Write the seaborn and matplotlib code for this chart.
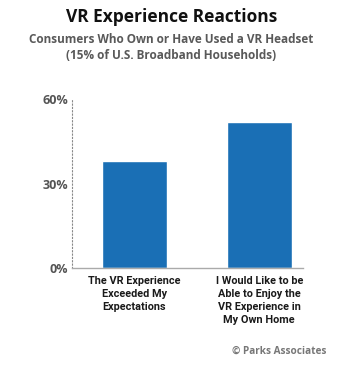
import matplotlib
matplotlib.use('Agg')
import matplotlib.pyplot as plt
import seaborn as sns
import pandas as pd

# Chart data
categories = ['The VR Experience\nExceeded My\nExpectations',
              'I Would Like to be\nAble to Enjoy the\nVR Experience in\nMy Own Home']
values = [38, 52]
yticks = [0, 30, 60]
ytick_labels = ['0%', '30%', '60%']

df = pd.DataFrame({'category': categories, 'value': values})

sns.set_style('white')
plt.rcParams['font.family'] = ['Open Sans', 'DejaVu Sans']

fig = plt.figure(figsize=(3.64, 3.73), dpi=100)
ax = fig.add_axes([0.198, 0.2815, 0.634, 0.453])

sns.barplot(data=df, x='category', y='value', color='#1a6fb5', saturation=1,
            width=0.52, ax=ax)

ax.set_xlim(-0.5, 1.35)
ax.set_ylim(0, 60)
ax.set_yticks(yticks)
ax.set_yticklabels(ytick_labels, fontsize=9, fontweight='bold', color='#555555')
ax.set_xlabel('')
ax.set_ylabel('')
ax.set_xticks(range(len(categories)))
ax.set_xticklabels(categories, fontsize=7.8, fontweight='bold', color='#1a1a1a',
                   family=['Roboto', 'DejaVu Sans'], linespacing=1.35)
ax.tick_params(axis='y', length=0, pad=3)
ax.tick_params(axis='x', length=0, pad=6)

for side in ['top', 'right']:
    ax.spines[side].set_visible(False)
ax.spines['left'].set_linestyle((0, (1, 2)))
ax.spines['left'].set_color('#888888')
ax.spines['left'].set_linewidth(0.8)
ax.spines['bottom'].set_color('#aaaaaa')
ax.spines['bottom'].set_linewidth(1)

fig.text(0.471, 0.955, 'VR Experience Reactions', ha='center', va='center',
         fontsize=12.5, fontweight='bold', color='#111111')
fig.text(0.469, 0.893, 'Consumers Who Own or Have Used a VR Headset', ha='center',
         va='center', fontsize=8.5, fontweight='bold', color='#595959')
fig.text(0.469, 0.85, '(15% of U.S. Broadband Households)', ha='center',
         va='center', fontsize=8.5, fontweight='bold', color='#595959')
fig.text(0.766, 0.057, '\u00a9 Parks Associates', ha='center', va='center',
         fontsize=7.2, fontweight='bold', color='#777777')

fig.savefig('out.png', dpi=100)
